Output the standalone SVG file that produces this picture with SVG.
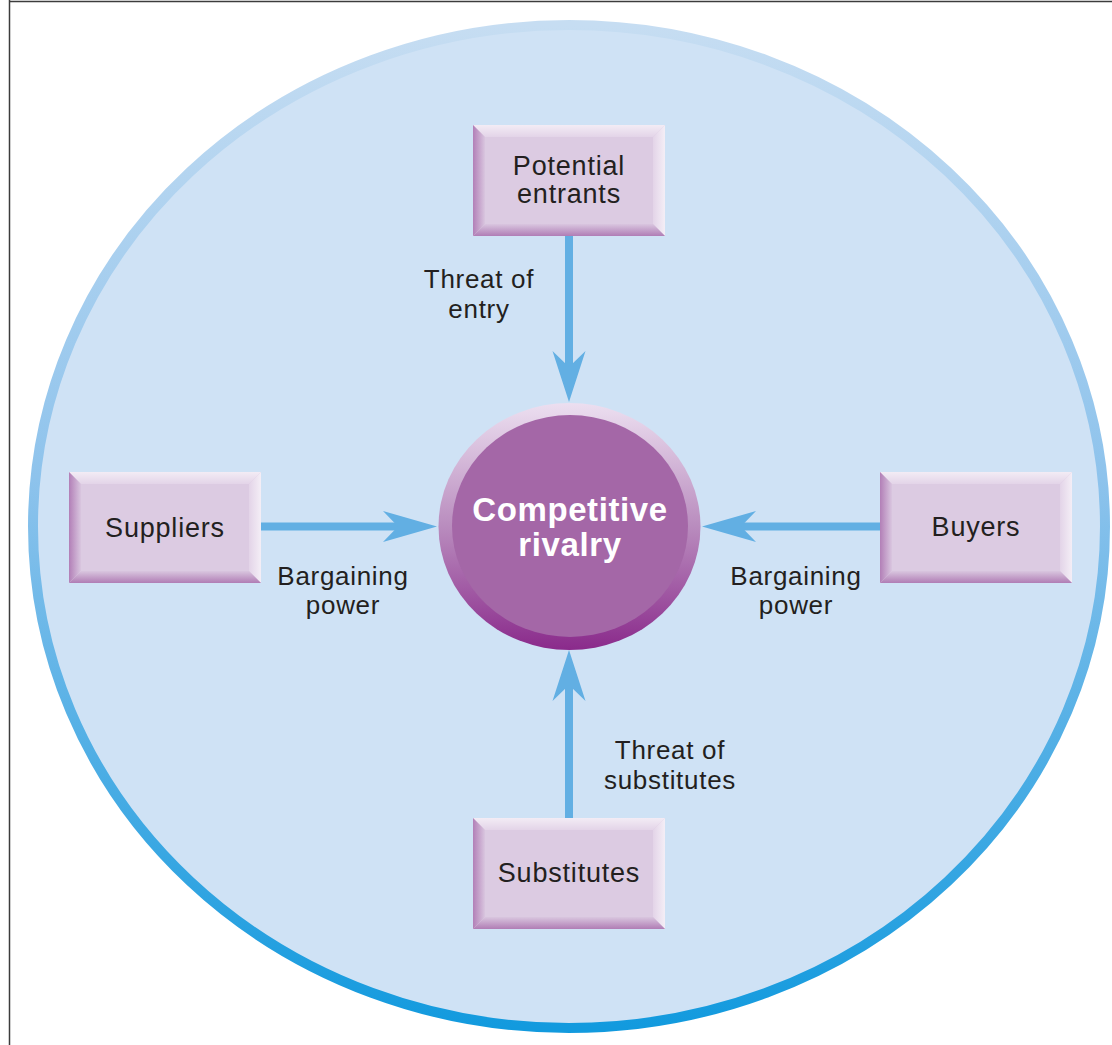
<svg xmlns="http://www.w3.org/2000/svg" xmlns:xlink="http://www.w3.org/1999/xlink" width="1112" height="1045" viewBox="0 0 1112 1045">
  <style>
    .lbl { font-family: "Liberation Sans", Arial, sans-serif; font-size: 26px; fill: #231f20; text-anchor: middle; letter-spacing: 0.7px; }
    .box { font-family: "Liberation Sans", Arial, sans-serif; font-size: 27px; fill: #231f20; text-anchor: middle; letter-spacing: 0.8px; }
    .core { font-family: "Liberation Sans", Arial, sans-serif; font-size: 33px; font-weight: bold; fill: #ffffff; text-anchor: middle; letter-spacing: 0.6px; }
    .shaft { stroke: #62afe3; stroke-width: 8; fill: none; }
    .head { fill: #62afe3; }
  </style>
  <defs>
    <linearGradient id="ringGrad" x1="0" y1="0" x2="0" y2="1">
      <stop offset="0" stop-color="#c6ddf2"/>
      <stop offset="0.45" stop-color="#8ec3ec"/>
      <stop offset="1" stop-color="#129ade"/>
    </linearGradient>
    <linearGradient id="coreRim" x1="0" y1="0" x2="0" y2="1">
      <stop offset="0" stop-color="#ecdff0"/>
      <stop offset="0.5" stop-color="#b98cbe"/>
      <stop offset="1" stop-color="#8a2a8b"/>
    </linearGradient>
    <linearGradient id="bevL" x1="0" y1="0" x2="1" y2="0">
      <stop offset="0" stop-color="#b27fb7"/>
      <stop offset="1" stop-color="#d9c6df"/>
    </linearGradient>
    <linearGradient id="bevB" x1="0" y1="1" x2="0" y2="0">
      <stop offset="0" stop-color="#b07db5"/>
      <stop offset="1" stop-color="#d9c6df"/>
    </linearGradient>
    <linearGradient id="bevT" x1="0" y1="0" x2="0" y2="1">
      <stop offset="0" stop-color="#f3ecf5"/>
      <stop offset="1" stop-color="#e3d4e8"/>
    </linearGradient>
    <linearGradient id="bevR" x1="1" y1="0" x2="0" y2="0">
      <stop offset="0" stop-color="#f4eef6"/>
      <stop offset="1" stop-color="#e3d4e8"/>
    </linearGradient>
    <g id="bevelBox">
      <rect x="0" y="0" width="192" height="111" fill="#dccbe2"/>
      <polygon points="0,0 192,0 180,12 12,12" fill="url(#bevT)"/>
      <polygon points="192,0 192,111 180,99 180,12" fill="url(#bevR)"/>
      <polygon points="0,111 192,111 180,99 12,99" fill="url(#bevB)"/>
      <polygon points="0,0 12,12 12,99 0,111" fill="url(#bevL)"/>
    </g>
  </defs>

  <rect x="0" y="0" width="1112" height="1045" fill="#ffffff"/>
  <path d="M9.5,0 V1045 M9,1.5 H1112" stroke="#3c3c3c" stroke-width="1.5" fill="none"/>

  <g id="environment">
    <ellipse cx="569" cy="526.5" rx="536" ry="501.5" fill="#cfe2f5" stroke="url(#ringGrad)" stroke-width="10"/>
  </g>

  <g id="connectors">
    <line class="shaft" x1="569" y1="236" x2="569" y2="372"/>
    <polygon class="head" points="569,402 552.5,351 569,367 585.5,351"/>
    <line class="shaft" x1="569" y1="818" x2="569" y2="680"/>
    <polygon class="head" points="569,650 552.5,701 569,685 585.5,701"/>
    <line class="shaft" x1="261" y1="526.5" x2="402" y2="526.5"/>
    <polygon class="head" points="437,526.5 383,511 398,526.5 383,542"/>
    <line class="shaft" x1="880" y1="526.5" x2="737" y2="526.5"/>
    <polygon class="head" points="702,526.5 756,511 741,526.5 756,542"/>
  </g>

  <g id="labels">
    <text class="lbl" x="479" y="288">Threat of</text>
    <text class="lbl" x="479" y="318">entry</text>
    <text class="lbl" x="343" y="585">Bargaining</text>
    <text class="lbl" x="343" y="614">power</text>
    <text class="lbl" x="796" y="585">Bargaining</text>
    <text class="lbl" x="796" y="614">power</text>
    <text class="lbl" x="670" y="759">Threat of</text>
    <text class="lbl" x="670" y="789">substitutes</text>
  </g>

  <g id="rivalry">
    <ellipse cx="569.5" cy="526.5" rx="131" ry="123.5" fill="url(#coreRim)"/>
    <ellipse cx="570" cy="526" rx="118" ry="111" fill="#a467a7"/>
    <text class="core" x="570" y="521">Competitive</text>
    <text class="core" x="570" y="556">rivalry</text>
  </g>

  <g id="potential-entrants">
    <use xlink:href="#bevelBox" x="473" y="125"/>
    <text class="box" x="569" y="175">Potential</text>
    <text class="box" x="569" y="203">entrants</text>
  </g>

  <g id="suppliers">
    <use xlink:href="#bevelBox" x="69" y="472"/>
    <text class="box" x="165" y="537">Suppliers</text>
  </g>

  <g id="buyers">
    <use xlink:href="#bevelBox" x="880" y="472"/>
    <text class="box" x="976" y="536">Buyers</text>
  </g>

  <g id="substitutes">
    <use xlink:href="#bevelBox" x="473" y="818"/>
    <text class="box" x="569" y="882">Substitutes</text>
  </g>
</svg>
